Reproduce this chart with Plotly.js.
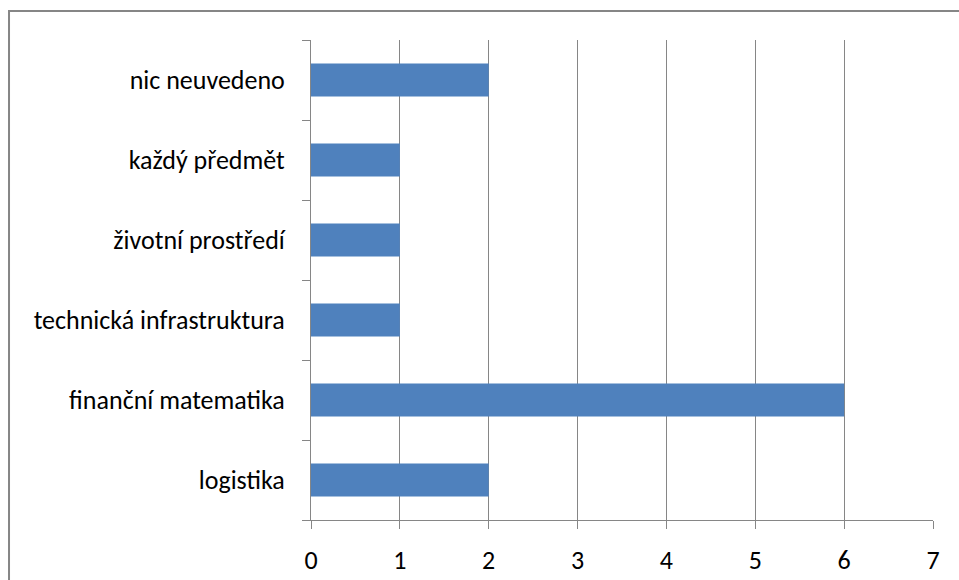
<!DOCTYPE html>
<html>
<head>
<meta charset="utf-8">
<script src="https://cdn.plot.ly/plotly-3.0.1.min.js"></script>
<style>
html,body{margin:0;padding:0;background:#fff;}
#chart{width:959px;height:580px;}
</style>
</head>
<body>
<div id="chart"></div>
<script>
const categories = ["logistika", "finanční matematika", "technická infrastruktura", "životní prostředí", "každý předmět", "nic neuvedeno"];
const values = [2, 6, 1, 1, 1, 2];
const xTicks = [0, 1, 2, 3, 4, 5, 6, 7];

const font = "Carlito, Calibri, Lato, 'Liberation Sans', sans-serif";

const trace = {
  type: "bar",
  orientation: "h",
  x: values,
  y: categories,
  marker: {color: "#4F81BD"},
  hoverinfo: "x+y"
};

const layout = {
  width: 959,
  height: 580,
  margin: {l: 311, r: 26, t: 40, b: 60, pad: 0},
  paper_bgcolor: "#ffffff",
  plot_bgcolor: "#ffffff",
  showlegend: false,
  bargap: 0.59,
  font: {family: font, size: 26, color: "#000000"},
  xaxis: {
    range: [0, 7],
    tickvals: xTicks,
    ticktext: xTicks.map(String),
    showgrid: true,
    gridcolor: "#868686",
    gridwidth: 1,
    zeroline: false,
    showline: true,
    linecolor: "#868686",
    linewidth: 1,
    ticks: "outside",
    ticklen: 8,
    tickcolor: "#868686",
    tickwidth: 1,
    ticklabelstandoff: 9,
    tickfont: {family: font, size: 26, color: "#000000"},
    fixedrange: true
  },
  yaxis: {
    type: "category",
    categoryorder: "array",
    categoryarray: categories,
    showgrid: false,
    zeroline: false,
    showline: true,
    linecolor: "#868686",
    linewidth: 1,
    ticks: "outside",
    tickson: "boundaries",
    ticklen: 8,
    tickcolor: "#868686",
    tickwidth: 1,
    ticklabelstandoff: 20,
    tickfont: {family: font, size: 26, color: "#000000"},
    fixedrange: true
  },
  shapes: [{
    type: "rect",
    xref: "paper", yref: "paper",
    x0: -0.4855, x1: 1.2,
    y0: -0.3, y1: 1.0604,
    line: {color: "#868686", width: 2},
    fillcolor: "rgba(0,0,0,0)",
    layer: "below"
  }]
};

Plotly.newPlot("chart", [trace], layout, {displayModeBar: false, staticPlot: true});
</script>
</body>
</html>
